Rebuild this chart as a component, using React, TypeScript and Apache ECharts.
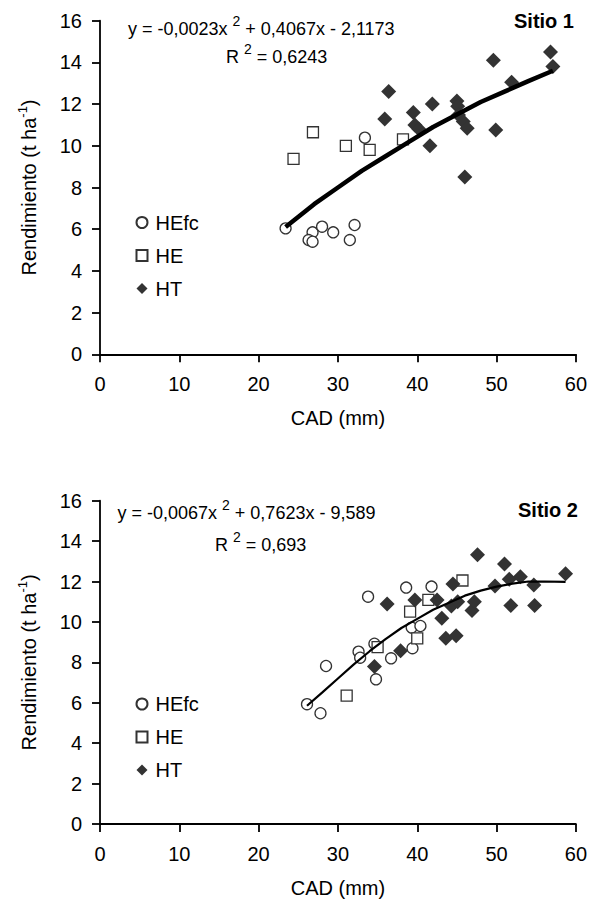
import React, { useEffect, useRef } from 'react';
import * as echarts from 'echarts';

// ---- Data (CAD mm, Rendimiento t/ha) ----
const seriesNames = ['HEfc', 'HE', 'HT'];

// Sitio 1
const s1HEfc: [number, number][] = [
  [23.4, 6.04], [26.8, 5.85], [26.3, 5.48], [26.8, 5.4], [28.0, 6.12],
  [29.4, 5.85], [31.5, 5.48], [32.1, 6.2], [33.4, 10.39],
];
const s1HE: [number, number][] = [
  [24.4, 9.37], [26.85, 10.65], [31.0, 10.0], [34.0, 9.8], [38.2, 10.31],
];
const s1HT: [number, number][] = [
  [35.9, 11.28], [36.4, 12.6], [39.5, 11.6], [39.7, 11.0], [40.2, 10.8],
  [41.6, 10.0], [41.9, 12.0], [45.0, 12.15], [45.1, 11.9], [45.2, 11.48],
  [45.8, 11.16], [46.3, 10.84], [46.0, 8.5], [49.6, 14.1], [49.9, 10.76],
  [51.9, 13.05], [56.8, 14.5], [57.1, 13.8],
];
const s1Trend: [number, number][] = [
  [23.4, 6.1], [27, 7.2], [30, 8.0], [33, 8.8], [36, 9.5], [39, 10.2],
  [42, 10.9], [45, 11.5], [48, 12.1], [51, 12.6], [54, 13.1], [57.1, 13.6],
];

// Sitio 2
const s2HEfc: [number, number][] = [
  [26.1, 5.93], [27.8, 5.48], [28.5, 7.82], [32.6, 8.53], [32.8, 8.23],
  [33.8, 11.25], [34.6, 8.92], [34.8, 7.16], [36.7, 8.2], [38.6, 11.7],
  [39.3, 9.72], [39.4, 8.7], [40.4, 9.8], [41.8, 11.75],
];
const s2HE: [number, number][] = [
  [31.1, 6.35], [35.0, 8.75], [39.1, 10.51], [40.0, 9.19], [41.4, 11.09], [45.7, 12.05],
];
const s2HT: [number, number][] = [
  [34.6, 7.79], [36.2, 10.89], [37.9, 8.58], [39.7, 11.09], [42.5, 11.09],
  [43.1, 10.18], [43.6, 9.19], [44.3, 10.79], [44.5, 11.88], [44.9, 9.32],
  [45.1, 11.0], [46.9, 10.56], [47.2, 11.0], [47.6, 13.32], [49.8, 11.78],
  [51.0, 12.87], [51.6, 12.11], [51.8, 10.81], [53.0, 12.24], [54.7, 11.83],
  [54.8, 10.81], [58.7, 12.38],
];
const s2Trend: [number, number][] = [
  [26.1, 5.85], [28, 6.5], [30, 7.2], [32, 7.9], [34, 8.55], [36, 9.15],
  [38, 9.7], [40, 10.15], [42, 10.6], [44, 10.95], [46, 11.3], [48, 11.55],
  [50, 11.75], [52, 11.9], [54, 12.0], [56, 12.0], [58.7, 11.98],
];

// Axis ranges
const xRange = { min: 0, max: 60, interval: 10 };
const yRange = { min: 0, max: 16, interval: 2 };

// Text
const eq1 = 'y = -0,0023x {sup|2} + 0,4067x - 2,1173';
const r1 = 'R {sup|2} = 0,6243';
const eq2 = 'y = -0,0067x {sup|2} + 0,7623x - 9,589';
const r2 = 'R {sup|2} = 0,693';
const site1 = 'Sitio 1';
const site2 = 'Sitio 2';
const xName = 'CAD (mm)';
const yName = 'Rendimiento (t ha{sup|-1})';

const FONT = "'Liberation Sans', Arial, Helvetica, sans-serif";
const INK = '#000';
const MARK = '#333';

function makeXAxis(gridIndex: number) {
  return {
    type: 'value',
    gridIndex,
    ...xRange,
    axisLine: { onZero: false, lineStyle: { color: INK, width: 1.8 } },
    axisTick: { length: 8, lineStyle: { color: INK, width: 1.8 } },
    axisLabel: { fontSize: 20, color: INK, fontFamily: FONT, margin: 20 },
    splitLine: { show: false },
    name: xName,
    nameLocation: 'middle',
    nameGap: 54,
    nameTextStyle: { fontSize: 20, color: INK, fontFamily: FONT },
  };
}

function makeYAxis(gridIndex: number) {
  return {
    type: 'value',
    gridIndex,
    ...yRange,
    axisLine: { onZero: false, lineStyle: { color: INK, width: 1.8 } },
    axisTick: { length: 8, lineStyle: { color: INK, width: 1.8 } },
    axisLabel: { fontSize: 20, color: INK, fontFamily: FONT, margin: 18 },
    splitLine: { show: false },
    name: yName,
    nameLocation: 'middle',
    nameRotate: 90,
    nameGap: 58,
    nameTextStyle: {
      fontSize: 20,
      color: INK,
      fontFamily: FONT,
      lineHeight: 26,
      rich: {
        sup: { fontSize: 13, fontFamily: FONT, color: INK, lineHeight: 13, verticalAlign: 'top' },
      },
    },
  };
}

function scatterSeries(name: string, data: [number, number][], idx: number) {
  const base: any = {
    type: 'scatter',
    name,
    xAxisIndex: idx,
    yAxisIndex: idx,
    data,
    z: 2,
  };
  if (name === 'HEfc') {
    base.symbol = 'circle';
    base.symbolSize = 11;
    base.itemStyle = { color: '#fff', borderColor: MARK, borderWidth: 1.3, opacity: 1 };
  } else if (name === 'HE') {
    base.symbol = 'rect';
    base.symbolSize = 11;
    base.itemStyle = { color: '#fff', borderColor: MARK, borderWidth: 1.3, opacity: 1 };
  } else {
    base.symbol = 'diamond';
    base.symbolSize = 15;
    base.itemStyle = { color: MARK, borderWidth: 0, opacity: 1 };
  }
  return base;
}

function trendSeries(data: [number, number][], idx: number, width: number) {
  return {
    type: 'line',
    name: 'trend' + idx,
    xAxisIndex: idx,
    yAxisIndex: idx,
    data,
    showSymbol: false,
    symbol: 'none',
    smooth: false,
    lineStyle: { color: '#000', width },
    z: 5,
  };
}

function legendAt(top: number) {
  return {
    orient: 'vertical',
    left: 135.5,
    top,
    padding: 0,
    itemWidth: 11,
    itemHeight: 11,
    itemGap: 13,
    data: seriesNames,
    textStyle: { fontSize: 20, color: INK, fontFamily: FONT, lineHeight: 20, padding: [0, 0, 0, 3] },
  };
}

const eqRich = {
  sup: { fontSize: 14, fontFamily: FONT, fill: INK, lineHeight: 14, verticalAlign: 'top' },
};

function eqText(text: string, x: number, y: number) {
  return {
    type: 'text',
    x,
    y,
    style: {
      text,
      fontSize: 18,
      fontFamily: FONT,
      fill: INK,
      lineHeight: 30,
      verticalAlign: 'middle',
      align: 'left',
      rich: eqRich,
    },
  };
}

function siteText(text: string, x: number, y: number) {
  return {
    type: 'text',
    x,
    y,
    style: {
      text,
      fontSize: 20,
      fontWeight: 'bold',
      fontFamily: FONT,
      fill: INK,
      verticalAlign: 'middle',
      align: 'right',
    },
  };
}

export default function App() {
  const ref = useRef<HTMLDivElement>(null);
  useEffect(() => {
    if (!ref.current) return;
    const chart = echarts.init(ref.current, null, { renderer: 'svg' });
    chart.setOption({
      animation: false,
      backgroundColor: '#fff',
      grid: [
        { left: 100, top: 20.7, width: 478, height: 333.6 },
        { left: 100, top: 500.7, width: 479, height: 323.3 },
      ],
      xAxis: [makeXAxis(0), makeXAxis(1)],
      yAxis: [makeYAxis(0), makeYAxis(1)],
      legend: [legendAt(212.5), legendAt(694)],
      series: [
        scatterSeries('HEfc', s1HEfc, 0),
        scatterSeries('HE', s1HE, 0),
        scatterSeries('HT', s1HT, 0),
        trendSeries(s1Trend, 0, 4.5),
        scatterSeries('HEfc', s2HEfc, 1),
        scatterSeries('HE', s2HE, 1),
        scatterSeries('HT', s2HT, 1),
        trendSeries(s2Trend, 1, 2.2),
      ],
      graphic: [
        eqText(eq1, 128, 29),
        eqText(r1, 226, 57),
        siteText(site1, 574, 20.5),
        eqText(eq2, 117.5, 513),
        eqText(r2, 215, 545),
        siteText(site2, 578, 510),
      ],
    });
    return () => chart.dispose();
  }, []);
  return (
    <div
      ref={ref}
      style={{ position: 'absolute', left: 0, top: 0, width: 590, height: 903, background: '#fff' }}
    />
  );
}
